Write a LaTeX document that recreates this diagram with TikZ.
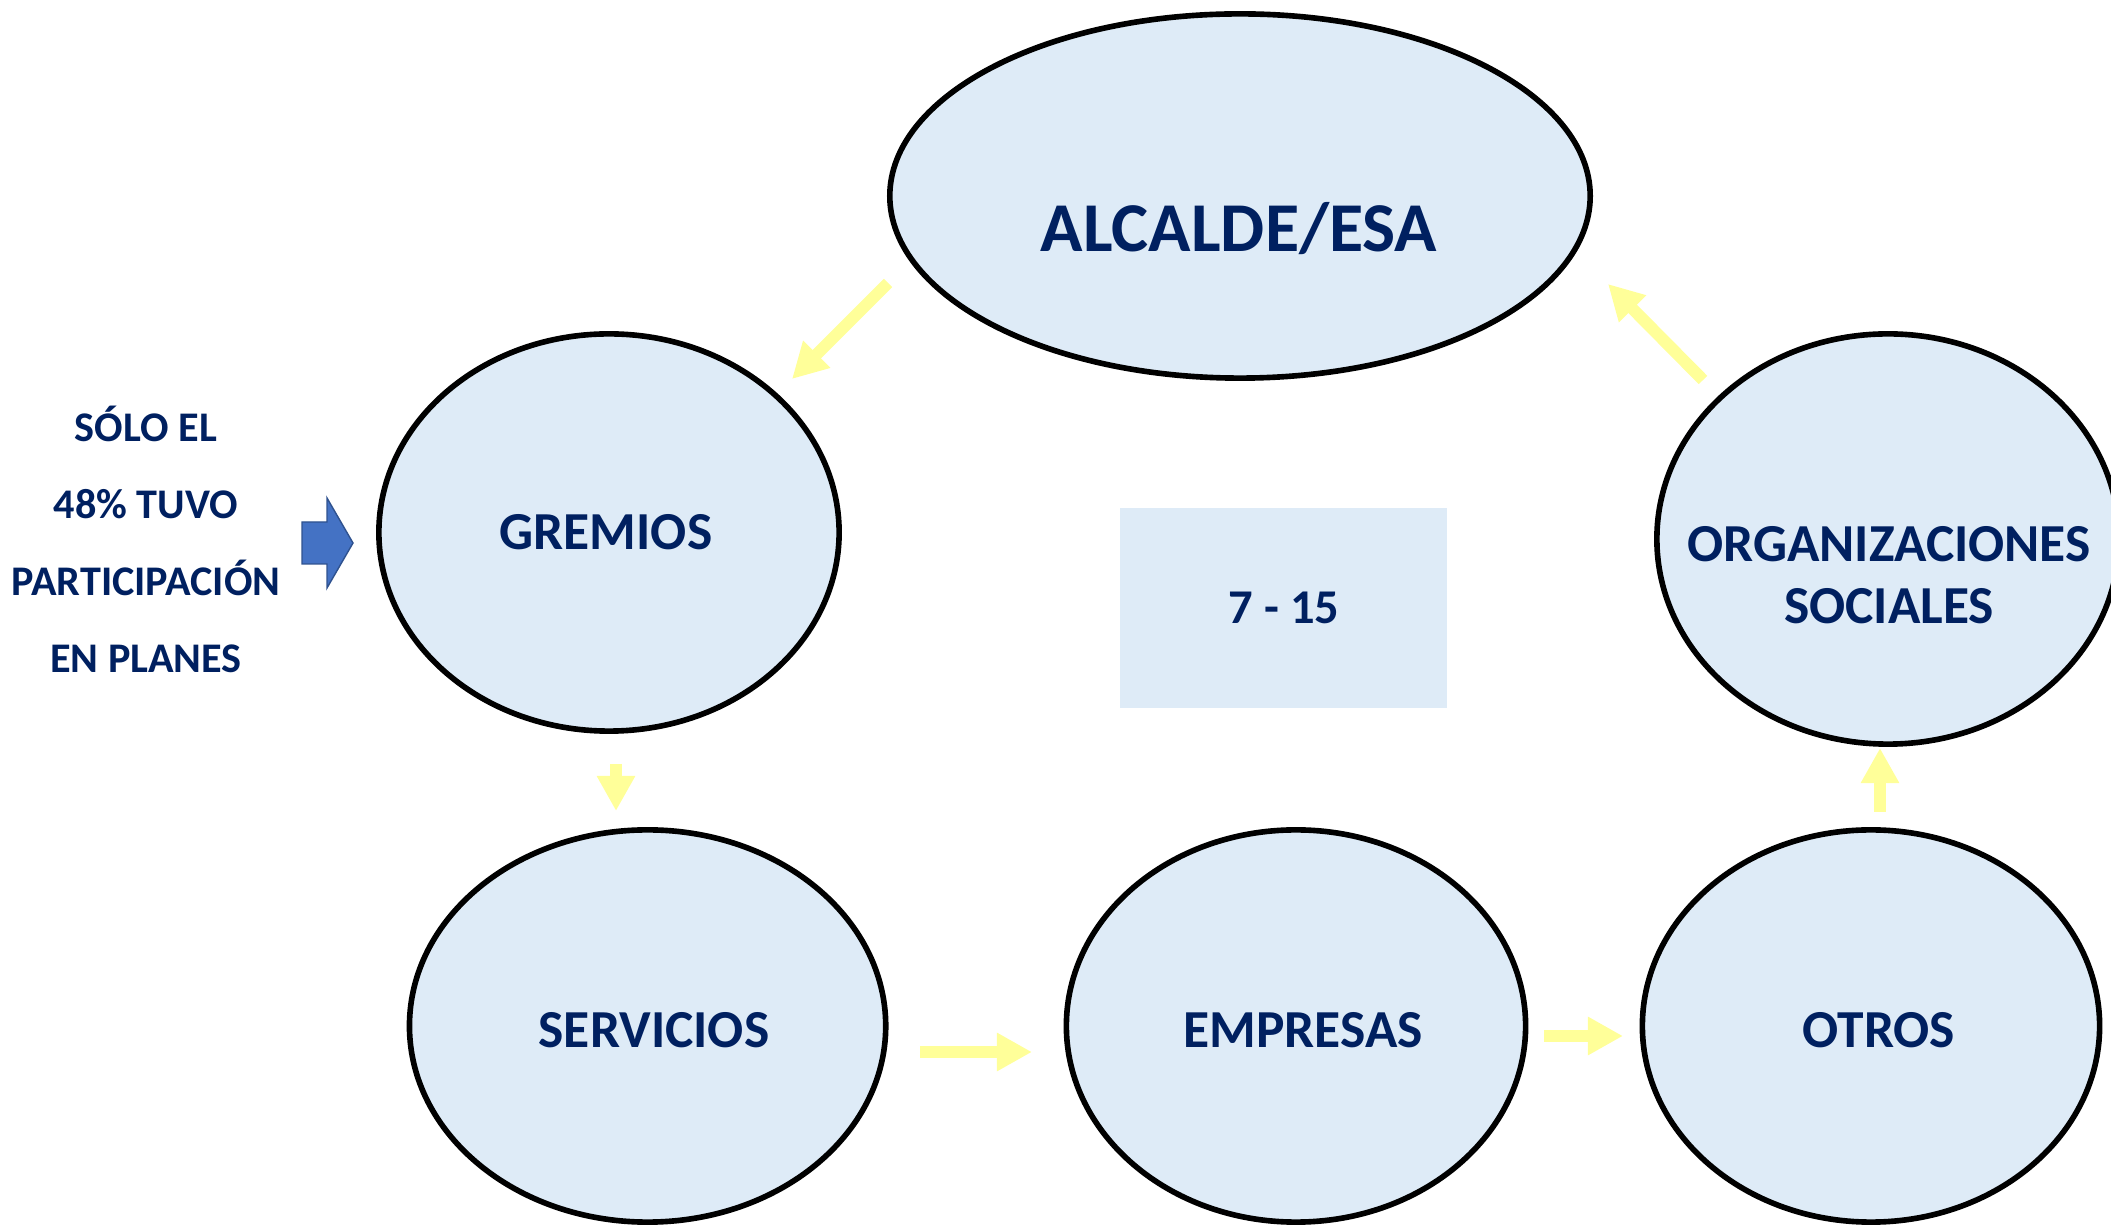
\documentclass[tikz,border=0pt]{standalone}
\usepackage{fontspec}
\setmainfont{Carlito}
\usetikzlibrary{shapes.geometric, arrows.meta}
\tikzstyle{bubble}=[ellipse,
        draw=black,
        line width=1.6pt,
        fill=BubbleFill,
        inner sep=0pt, ]
\tikzstyle{bubble_text}=[text=TextNavy,
        font=\bfseries\fontsize{15.2pt}{17.6pt}\selectfont,
        align=center,
        inner sep=0pt, ]
\tikzstyle{side_text}=[text=TextNavy,
        font=\bfseries\fontsize{12pt}{14pt}\selectfont,
        inner sep=0pt, ]
\tikzstyle{flow_arrow}=[draw=FlowYellow,
        line width=3.4pt,
        -{Triangle[width=0.36cm, length=0.35cm]}, ]
\definecolor{BubbleFill}{HTML}{DEEBF7}
\definecolor{TextNavy}{HTML}{002060}
\definecolor{FlowYellow}{HTML}{FFFF99}
\definecolor{PointerBlue}{HTML}{4472C4}
\definecolor{PointerEdge}{HTML}{2F528F}

\begin{document}
\begin{tikzpicture}[x=0.01cm, y=-0.01cm]
    \useasboundingbox (0,0) rectangle (2111,1228);

    % actors
    \node at (1240, 196) (alcalde) [bubble, minimum width=7.0cm, minimum height=3.64cm] {};
    \node at (609, 532.5) (gremios) [bubble, minimum width=4.6cm, minimum height=3.97cm] {};
    \node at (647.6, 1026) (servicios) [bubble, minimum width=4.76cm, minimum height=3.92cm] {};
    \node at (1296, 1026) (empresas) [bubble, minimum width=4.59cm, minimum height=3.92cm] {};
    \node at (1871, 1026) (otros) [bubble, minimum width=4.57cm, minimum height=3.92cm] {};
    \node at (1888, 539) (organizaciones) [bubble, minimum width=4.62cm, minimum height=4.1cm] {};

    \node at (1239, 252) (alcalde-txt) [bubble_text, anchor=base, font=\bfseries\fontsize{19.9pt}{22pt}\selectfont] {ALCALDE/ESA};
    \node at (606, 550) (gremios-txt) [bubble_text, anchor=base] {GREMIOS};
    \node at (654, 1048) (servicios-txt) [bubble_text, anchor=base] {SERVICIOS};
    \node at (1303, 1048) (empresas-txt) [bubble_text, anchor=base] {EMPRESAS};
    \node at (1879, 1048) (otros-txt) [bubble_text, anchor=base] {OTROS};
    \node at (1889, 575) (organizaciones-txt) [bubble_text] {ORGANIZACIONES\\SOCIALES};

    % rango
    \node at (1283.5, 608) (rango) [rectangle, fill=BubbleFill, minimum width=3.27cm, minimum height=2.0cm] {};
    \node at (1284, 624) (rango-txt) [bubble_text, anchor=base, font=\bfseries\fontsize{13.8pt}{16pt}\selectfont] {7 - 15};

    % nota lateral
    \foreach \txt [count=\i] in {SÓLO EL, 48\% TUVO, PARTICIPACIÓN, EN PLANES} {
        \node at (146, {441.5 + 77*(\i-1)}) (nota\i) [side_text, anchor=base] {\txt};
    }
    \draw[fill=PointerBlue, draw=PointerEdge, line width=0.4pt]
        (302,522) -- (327,522) -- (327,498) -- (353,543) -- (327,588) -- (327,564) -- (302,564) -- cycle;

    % flechas
    \coordinate (alcalde-out) at (888, 283);
    \coordinate (gremios-in) at (792, 379);
    \coordinate (gremios-out) at (616, 764);
    \coordinate (servicios-in) at (616, 811);
    \coordinate (servicios-out) at (920, 1052);
    \coordinate (empresas-in) at (1032, 1052);
    \coordinate (empresas-out) at (1544, 1036);
    \coordinate (otros-in) at (1623, 1036);
    \coordinate (otros-out) at (1880, 812);
    \coordinate (organizaciones-in) at (1880, 748);
    \coordinate (organizaciones-out) at (1703, 380);
    \coordinate (alcalde-in) at (1608, 284);

    \draw[flow_arrow] (alcalde-out) -- (gremios-in);
    \draw[flow_arrow] (gremios-out) -- (servicios-in);
    \draw[flow_arrow] (servicios-out) -- (empresas-in);
    \draw[flow_arrow] (empresas-out) -- (otros-in);
    \draw[flow_arrow] (otros-out) -- (organizaciones-in);
    \draw[flow_arrow] (organizaciones-out) -- (alcalde-in);

\end{tikzpicture}
\end{document}
